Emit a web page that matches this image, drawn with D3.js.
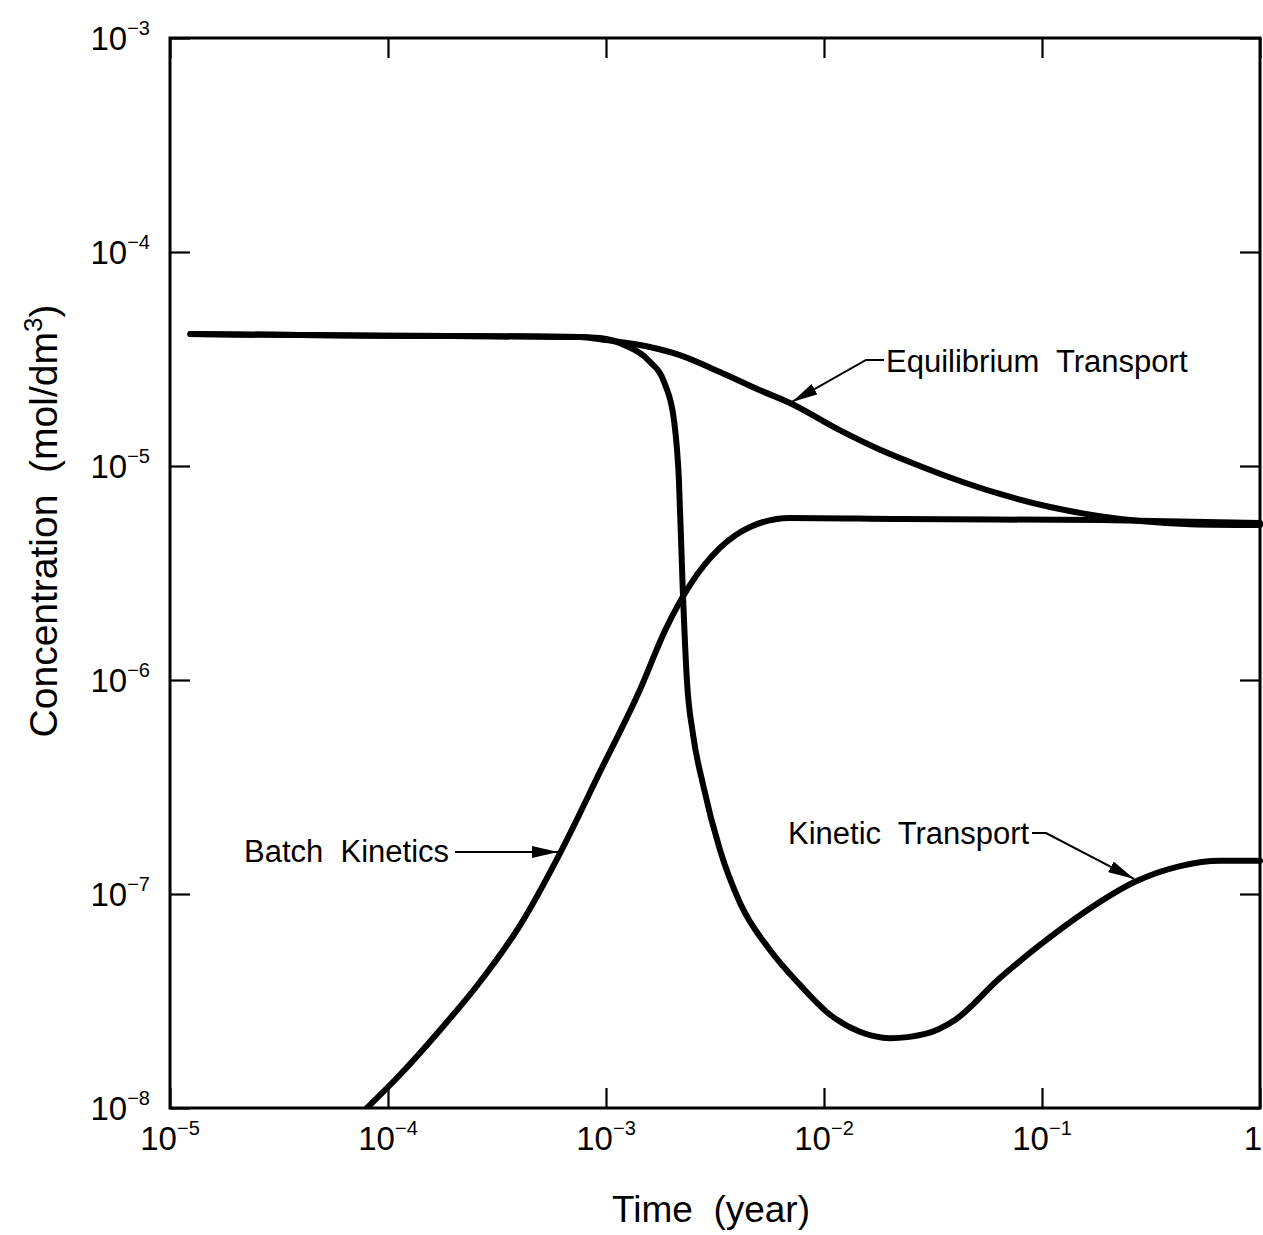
<!DOCTYPE html>
<html>
<head>
<meta charset="utf-8">
<script src="https://cdn.jsdelivr.net/npm/d3@7"></script>
<style>
  html, body { margin: 0; padding: 0; background: #fff; }
  svg { display: block; font-family: "Liberation Sans", Arial, Helvetica, sans-serif; }
  text { white-space: pre; }
</style>
</head>
<body>
<svg id="chart" width="1263" height="1235"></svg>
<script>
// Concentration vs. time, three transport models (log-log)
const xTicks = [1e-5, 1e-4, 1e-3, 1e-2, 1e-1, 1];
const xTickExp = ["−5", "−4", "−3", "−2", "−1", ""];
const yTicks = [1e-8, 1e-7, 1e-6, 1e-5, 1e-4, 1e-3];
const yTickExp = ["−8", "−7", "−6", "−5", "−4", "−3"];

// Equilibrium Transport
const eqTime = [1.24e-5, 3.95e-5, 1.92e-4, 7.6e-4, 1.0e-3, 1.59e-3, 2.18e-3, 3.33e-3, 5.08e-3, 6.98e-3,
                1.18e-2, 1.81e-2, 2.75e-2, 4.2e-2, 6.41e-2, 0.109, 0.184, 0.282, 0.478, 1.0];
const eqConc = [4.14e-5, 4.09e-5, 4.05e-5, 4.01e-5, 3.88e-5, 3.6e-5, 3.30e-5, 2.75e-5, 2.26e-5, 1.97e-5,
                1.47e-5, 1.19e-5, 1.0e-5, 8.51e-6, 7.40e-6, 6.43e-6, 5.83e-6, 5.53e-6, 5.35e-6, 5.30e-6];

// Batch Kinetics
const batchTime = [8.0e-5, 1.135e-4, 1.73e-4, 2.64e-4, 4.04e-4, 6.15e-4, 9.38e-4, 1.43e-3, 1.87e-3, 2.43e-3,
                   3.33e-3, 4.58e-3, 6.98e-3, 2.23e-2, 0.184, 1.0];
const batchConc = [1.0e-8, 1.43e-8, 2.31e-8, 3.88e-8, 7.16e-8, 1.55e-7, 3.72e-7, 8.98e-7, 1.71e-6, 2.78e-6,
                   4.14e-6, 5.19e-6, 5.72e-6, 5.65e-6, 5.59e-6, 5.42e-6];

// Kinetic Transport
const kinTime = [1.24e-5, 3.95e-5, 1.92e-4, 7.6e-4, 9.38e-4, 1.22e-3, 1.56e-3, 1.87e-3, 2.05e-3, 2.16e-3,
                 2.25e-3, 2.35e-3, 2.51e-3, 2.79e-3, 3.33e-3, 4.12e-3, 5.65e-3, 7.76e-3, 1.07e-2, 1.46e-2,
                 2.01e-2, 2.91e-2, 3.99e-2, 6.41e-2, 9.79e-2, 0.157, 0.267, 0.430, 0.656, 1.0];
const kinConc = [4.14e-5, 4.09e-5, 4.05e-5, 4.01e-5, 3.96e-5, 3.67e-5, 3.13e-5, 2.39e-5, 1.64e-5, 8.61e-6,
                 2.64e-6, 1.0e-6, 5.53e-7, 3.23e-7, 1.61e-7, 9.08e-8, 5.47e-8, 3.76e-8, 2.72e-8, 2.27e-8,
                 2.12e-8, 2.22e-8, 2.58e-8, 4.05e-8, 5.78e-8, 8.24e-8, 1.14e-7, 1.35e-7, 1.43e-7, 1.43e-7];

const svg = d3.select("#chart");
const box = { left: 170, right: 1260, top: 38, bottom: 1108 };

const x = d3.scaleLog().domain([1e-5, 1]).range([box.left, box.right]);
const y = d3.scaleLog().domain([1e-8, 1e-3]).range([box.bottom, box.top]);

const plot = svg.append("g");

// frame
plot.append("rect")
  .attr("x", box.left).attr("y", box.top)
  .attr("width", box.right - box.left).attr("height", box.bottom - box.top)
  .attr("fill", "none").attr("stroke", "#000").attr("stroke-width", 3);

// inward ticks on all four sides
const tickLen = 20;
function styleAxis(g) {
  g.select(".domain").remove();
  g.selectAll(".tick line").attr("stroke", "#000").attr("stroke-width", 2.2);
  g.selectAll(".tick text").remove();
}
plot.append("g").attr("transform", `translate(0,${box.bottom})`)
  .call(d3.axisBottom(x).tickValues(xTicks).tickSize(-tickLen)).call(styleAxis);
plot.append("g").attr("transform", `translate(0,${box.top})`)
  .call(d3.axisTop(x).tickValues(xTicks).tickSize(-tickLen)).call(styleAxis);
plot.append("g").attr("transform", `translate(${box.left},0)`)
  .call(d3.axisLeft(y).tickValues(yTicks).tickSize(-tickLen)).call(styleAxis);
plot.append("g").attr("transform", `translate(${box.right},0)`)
  .call(d3.axisRight(y).tickValues(yTicks).tickSize(-tickLen)).call(styleAxis);

// tick labels with superscript exponents
const labelSize = 33, supSize = 20;
xTicks.forEach((v, i) => {
  const t = svg.append("text")
    .attr("y", box.bottom + 42)
    .attr("font-size", labelSize);
  if (xTickExp[i] === "") {
    // the last label sits flush with the page edge
    t.attr("x", 1262).attr("text-anchor", "end").text("1");
  } else {
    t.attr("x", x(v)).attr("text-anchor", "middle");
    t.append("tspan").text("10");
    t.append("tspan").attr("font-size", supSize).attr("dy", -15).text(xTickExp[i]);
  }
});
yTicks.forEach((v, i) => {
  const t = svg.append("text")
    .attr("x", box.left - 20).attr("y", y(v) + 12)
    .attr("text-anchor", "end")
    .attr("font-size", labelSize);
  t.append("tspan").text("10");
  t.append("tspan").attr("font-size", supSize).attr("dy", -15).text(yTickExp[i]);
});

// axis titles
svg.append("text")
  .attr("x", 711).attr("y", 1222)
  .attr("text-anchor", "middle")
  .attr("font-size", 37)
  .text("Time  (year)");

const yt = svg.append("text")
  .attr("transform", `translate(57,521) rotate(-90)`)
  .attr("text-anchor", "middle")
  .attr("font-size", 39);
yt.append("tspan").text("Concentration  (mol/dm");
yt.append("tspan").attr("font-size", 26).attr("dy", -15).text("3");
yt.append("tspan").attr("dy", 15).text(")");

// curves
const line = d3.line()
  .x(d => x(d[0]))
  .y(d => y(d[1]))
  .curve(d3.curveMonotoneX);

svg.append("clipPath").attr("id", "plotClip")
  .append("rect").attr("x", box.left).attr("y", box.top - 5)
  .attr("width", box.right - box.left + 5).attr("height", box.bottom - box.top + 5);

const curves = svg.append("g").attr("clip-path", "url(#plotClip)");
[[eqTime, eqConc], [batchTime, batchConc], [kinTime, kinConc]].forEach(([ts, cs]) => {
  curves.append("path")
    .datum(ts.map((t, i) => [t, cs[i]]))
    .attr("d", line)
    .attr("fill", "none")
    .attr("stroke", "#000")
    .attr("stroke-width", 6)
    .attr("stroke-linejoin", "round")
    .attr("stroke-linecap", "round");
});

// annotation labels with leader arrows
svg.append("defs").append("marker")
  .attr("id", "arrowHead")
  .attr("viewBox", "0 0 26 12")
  .attr("refX", 26).attr("refY", 6)
  .attr("markerWidth", 26).attr("markerHeight", 12)
  .attr("markerUnits", "userSpaceOnUse")
  .attr("orient", "auto")
  .append("path").attr("d", "M0,0 L26,6 L0,12 Z").attr("fill", "#000");

const annoSize = 31;
function annotate(text, tx, ty, pts) {
  svg.append("text")
    .attr("x", tx).attr("y", ty)
    .attr("font-size", annoSize)
    .text(text);
  svg.append("path")
    .attr("d", d3.line()(pts))
    .attr("fill", "none")
    .attr("stroke", "#000")
    .attr("stroke-width", 2)
    .attr("marker-end", "url(#arrowHead)");
}

// leader end points sit on the curves at the times they point to
annotate("Equilibrium  Transport", 886, 372,
  [[884, 360], [866, 360], [x(6.98e-3) + 2, y(1.97e-5) - 1]]);
annotate("Batch  Kinetics", 244, 862,
  [[455, 852], [x(6.15e-4) - 2, 852]]);
annotate("Kinetic  Transport", 788, 844,
  [[1032, 833], [1046, 833], [x(0.267) - 1, y(1.14e-7) - 3]]);
</script>
</body>
</html>
